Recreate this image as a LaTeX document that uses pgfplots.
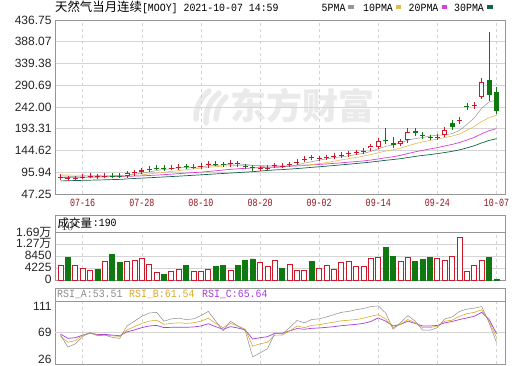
\documentclass[border=0pt]{standalone}
\usepackage{pgfplots}
\pgfplotsset{compat=1.18}
\usepackage{pgfplotstable}
\usepackage{graphicx}
\usepackage{fontspec}
\setmainfont{Liberation Sans}
\newfontfamily\cjk{Noto Sans CJK SC}
\newfontfamily\mono{Liberation Mono}
\definecolor{kred}{RGB}{204,24,40}
\definecolor{kgreen}{RGB}{16,120,16}
\definecolor{ma5}{RGB}{150,150,150}
\definecolor{ma10}{RGB}{230,186,80}
\definecolor{ma20}{RGB}{220,60,220}
\definecolor{ma30}{RGB}{20,100,70}
\definecolor{rsia}{RGB}{140,140,140}
\definecolor{rsib}{RGB}{220,170,40}
\definecolor{rsic}{RGB}{170,60,220}
\definecolor{gridc}{RGB}{212,212,212}
\definecolor{framec}{RGB}{150,150,150}
\definecolor{datec}{RGB}{150,20,30}
\definecolor{wm}{RGB}{234,234,234}
\newcommand\mtext[1]{{\mono\fontsize{11}{11}\selectfont\scalebox{0.9}[1]{#1}}}
\newcommand\dlab[1]{{\mono\fontsize{11}{11}\selectfont\scalebox{0.76}[1]{#1}}}
\pgfplotsset{
  panel/.style={scale only axis, width=450pt, xmin=-0.75, xmax=60.15,
    xtick={3,11,19,27,35,43,51,59}, major tick length=0pt,
    xmajorgrids, x grid style={dashed, gridc, line width=0.6pt},
    y grid style={gridc, line width=0.6pt},
    axis line style={framec, line width=0.7pt},
    yticklabel style={font=\fontsize{12}{12}\selectfont, text=black!85},
    anchor=south west},
  wick/.style={draw=none, mark=none, forget plot,
    error bars/.cd, y dir=minus, y explicit, error mark=none,
    error bar style={draw=#1, line width=0.8pt}},
  body/.style={draw=none, mark=none, forget plot,
    error bars/.cd, y dir=both, y explicit, error mark=-,
    error mark options={draw=#1, line width=0.8pt, mark size=2.5pt},
    error bar style={draw=#1, line width=5pt}},
  hollow/.style={draw=none, mark=none, forget plot,
    error bars/.cd, y dir=minus, y explicit, error mark=none,
    error bar style={draw=white, line width=3.4pt}},
}
% red (up) candles: low, body low (open), body high (close), high
\pgfplotstableread{
i l bl bh h
0 84.5 85 86 86.5
1 81 81.5 82 82.5
2 81.3 81.8 82.3 82.8
3 85.5 86 86.3 87
4 87.5 88 88.3 89
5 85.5 86 87 87.5
6 87.5 88 88.5 89
9 88 88.5 93.5 94
10 93 94 95.5 96
11 97 97.5 100 101
12 102.5 103 104 104.5
15 105.5 106 106.5 107
16 106.5 107 108.5 109
18 108 108.3 108.5 109
19 109 109.5 111 112
20 111.5 112 115 115.5
23 113.5 114 117 117.5
27 103.5 104 105 105.5
28 104 104.5 105.5 106
29 109.5 110 111.5 112
30 110 110.3 110.8 111.5
31 112 113 114 116
32 117 118 120 122
33 122.5 123.5 126 127.5
35 125 127 127.8 130
36 128.8 129.2 129.6 130.2
37 130.5 131.5 133 134
38 132 132.5 135.5 136
39 135.5 136.5 138 140
40 139 140 141 143
41 141.5 142.5 144 146
42 149 150 154 155
43 152 153 166 167
46 158 160 165 167
47 166 168 186 194
51 172.5 173.5 175.5 176.5
52 178.5 179.5 191 192.5
54 204 210 213.5 217
56 239 244 247.5 253
57 262 264.5 297.5 306
}\redc
% green (down) candles: low, body low (close), body high (open), high
\pgfplotstableread{
i l bl bh h
7 87.8 88.2 88.5 89
8 87.5 88.0 88.3 88.8
13 104 105.5 106 108
14 104.5 105 106 107.5
17 107.5 108 109 110.5
21 114 114.5 114.8 115.5
22 113 113.5 113.8 114.5
24 113 114 116 117
25 106 108 109 111
26 103.5 104.5 107 108
34 127 128 129.5 131
44 164 165 169 194
45 151 157 161 174
48 181 183 189 190
49 175 177 180 182
50 172.5 173.5 174.5 175
53 195.5 196.5 206 213
55 236 241 244 250
58 256 268 302 409
59 226 232 276 287
}\greenc
\pgfplotstableread{
i ma5 ma10 ma20 ma30 ra rb rc
0 88 90 84 76.5 65.0 63.2 66.3
1 87 89.8 84.3 77 48.8 55.4 60.6
2 86 89.5 84.6 77.4 53.2 57.5 61.5
3 85.5 89.2 84.9 77.8 63.2 65.0 65.0
4 84.8 89 85.2 78.2 68.5 67.6 67.6
5 85.0 88.7 85.5 78.6 64.1 65.0 65.9
6 86.3 88.4 85.8 79 65.0 65.0 65.9
7 87.9 88 86.1 79.5 61.9 64.1 65.0
8 88.7 87.6 86.4 80 60.6 63.2 64.1
9 89.7 87.3 86.8 81 77.3 72.0 69.4
10 91.4 88.2 87.3 82 83.8 76.4 72.0
11 93.7 90 87.9 82.8 90.4 80.8 75.1
12 96.6 92.3 88.7 83.6 94.8 83.8 77.3
13 99.7 94.2 89.6 84.5 95.7 85.1 78.1
14 102 95.9 90.6 85.4 83.8 79.5 75.1
15 104.2 97.8 91.7 86.3 86.9 80.8 75.5
16 105.7 99.7 92.8 87.2 87.8 81.6 75.5
17 106.5 101.6 94 88.2 86.0 80.8 75.5
18 107.1 103.4 95.1 89.2 86.9 81.6 76.0
19 108.3 105.2 96.2 90.2 91.3 83.8 77.3
20 110 107.1 97.7 91.2 97.0 87.8 80.3
21 111.2 108.5 99.2 92.2 83.8 80.8 76.4
22 112.4 109.5 100.9 93.2 70.7 75.1 72.9
23 114.1 110.6 102.4 94.2 83.8 80.8 76.4
24 114.7 111.5 103.7 95.2 77.3 77.3 74.6
25 113.3 111.7 104.7 96.2 70.7 72.9 72.0
26 111.5 111.4 105.5 97.2 35.6 50.1 59.7
27 109.7 111.1 106.3 98.6 40.9 53.2 61.5
28 107.4 110.8 107.1 100 46.6 55.4 62.8
29 106.8 110.8 108 101.1 67.6 65.0 67.6
30 107.4 110.4 108.7 101.9 66.3 65.0 67.6
31 109.3 110.4 109.4 103 75.1 70.7 70.7
32 112.3 111 110.2 104.2 84.7 77.3 73.8
33 116.2 111.8 111.2 105.5 81.6 75.1 72.9
34 119.6 113.2 112.4 106.9 86.0 78.1 74.2
35 122.9 115.2 113.4 108.2 86.9 79.0 74.6
36 126 117.7 114.5 109.6 89.5 80.8 75.5
37 128.6 120.5 115.8 111 92.6 82.5 76.4
38 130.7 123.5 117.1 112.5 95.7 84.3 77.7
39 132.7 126.2 118.5 114 97.0 85.1 78.6
40 135.4 129.2 119.8 115.5 99.2 86.0 79.5
41 138.3 132.2 121.3 117 100.9 87.8 80.8
42 142.5 135.6 123.3 118.7 103.5 90.4 83.4
43 148.6 139.7 125.7 120.7 104.4 92.6 88.2
44 154 143.4 128.3 122.7 94.8 86.9 83.8
45 157.2 146.3 130.7 124.4 72.9 75.1 77.3
46 161.4 149.9 133.8 126.3 81.6 79.5 79.5
47 167.8 155.2 137.8 128.9 91.3 86.0 83.8
48 171.2 159.9 141.7 131.4 83.8 81.6 80.8
49 173.6 163.8 145 133.6 71.6 75.1 77.3
50 176.9 167.1 148.1 135.5 71.6 75.1 77.3
51 178.9 170.2 151.2 137.6 75.1 77.3 78.1
52 179.7 173.8 154.7 140.1 86.9 83.8 81.6
53 182.5 176.9 158.3 142.8 89.5 85.1 83.4
54 189.7 181.7 162.5 146.1 97.0 90.4 86.0
55 203 190 168.1 150.5 100.0 93.9 88.2
56 217.8 198.4 174.1 155.3 101.4 95.7 90.4
57 239.2 209.5 182.3 161.7 103.5 99.2 95.7
58 253.4 218 188.9 167.1 81.6 83.8 86.0
59 257.2 223.5 193.6 171.1 55 62 67
}\tab
\begin{document}
\begin{tikzpicture}
\useasboundingbox[fill=white] (0,0) rectangle (520pt,365pt);
% watermark (logo + text)
\begin{scope}[wm, line width=5.5pt, line cap=round]
\draw (196pt,246pt) to[bend left=25] (209pt,274pt);
\draw (206pt,242pt) to[bend left=25] (219pt,272pt);
\draw (216pt,246pt) to[bend left=20] (226pt,268pt);
\end{scope}
\node[text=wm, font={\cjk\bfseries\fontsize{36}{36}\selectfont}, inner sep=0] at (302pt,259pt) {东方财富};
% title & legend
\node[anchor=west, inner sep=0] at (55pt,357.5pt) {{\cjk\fontsize{12.4}{12}\selectfont 天然气当月连续}\mtext{[MOOY] 2021-10-07 14:59}};
\node[anchor=west, inner sep=0] at (321.5pt,357.5pt) {\mtext{5PMA}};
\fill[ma5] (348pt,355.7pt) rectangle (354pt,359.5pt);
\node[anchor=west, inner sep=0] at (363pt,357.5pt) {\mtext{10PMA}};
\fill[ma10] (395.5pt,355.7pt) rectangle (401pt,359.5pt);
\node[anchor=west, inner sep=0] at (408.5pt,357.5pt) {\mtext{20PMA}};
\fill[ma20] (441.5pt,355.7pt) rectangle (447pt,359.5pt);
\node[anchor=west, inner sep=0] at (454pt,357.5pt) {\mtext{30PMA}};
\fill[ma30] (487pt,355.7pt) rectangle (493pt,359.5pt);

% ---------- main price panel ----------
\begin{axis}[panel, at={(55pt,171pt)}, height=174pt,
  ymin=47.25, ymax=436.75, ymajorgrids,
  ytick={47.25,95.9375,144.625,193.3125,242,290.6875,339.375,388.0625,436.75},
  yticklabels={47.25,95.94,144.62,193.31,242.00,290.69,339.38,388.07,436.75},
  xticklabels={\dlab{07-16},\dlab{07-28},\dlab{08-10},\dlab{08-20},\dlab{09-02},\dlab{09-14},\dlab{09-24},\dlab{10-07}},
  xticklabel style={text=datec, yshift=-2pt}]
\addplot[ma30, line width=0.7pt] table[x=i, y=ma30] {\tab};
\addplot[ma20, line width=0.7pt] table[x=i, y=ma20] {\tab};
\addplot[ma10, line width=0.6pt] table[x=i, y=ma10] {\tab};
\addplot[ma5, line width=0.5pt] table[x=i, y=ma5] {\tab};
% wicks
\addplot[wick=kred] table[x=i, y=h, y error minus expr=\thisrow{h}-\thisrow{l}] {\redc};
\addplot[wick=kgreen] table[x=i, y=h, y error minus expr=\thisrow{h}-\thisrow{l}] {\greenc};
% bodies
\addplot[body=kred] table[x=i, y=bh, y error plus expr=0, y error minus expr=\thisrow{bh}-\thisrow{bl}] {\redc};
\addplot[hollow] table[x=i, y expr=\thisrow{bh}-1.8, y error minus expr={max(\thisrow{bh}-\thisrow{bl}-3.6,0)}] {\redc};
\addplot[body=kgreen] table[x=i, y=bh, y error plus expr=0, y error minus expr=\thisrow{bh}-\thisrow{bl}] {\greenc};
\end{axis}

% ---------- volume panel ----------
\draw[framec, line width=0.7pt] (55pt,132.5pt) rectangle (505pt,150pt);
\node[anchor=west, inner sep=0, font={\cjk\fontsize{11.5}{11.5}\selectfont}] (vt) at (57.5pt,142pt) {成交量};
\node[anchor=west, inner sep=0] at ([xshift=0.3pt]vt.east) {\mtext{:190}};
\begin{axis}[panel, at={(55pt,85pt)}, height=47.5pt,
  ymin=0, ymax=16900, ymajorgrids,
  ytick={0,4225,8450,12675,16900},
  yticklabels={0,4225,8450,{1.27{\cjk 万}},{1.69{\cjk 万}}},
  yticklabel style={yshift=0.5pt},
  xticklabels={}]
\addplot[ybar, bar width=5pt, bar shift=0pt, draw=kred, fill=white, line width=0.8pt] coordinates {
(0,5070) (2,5310) (3,4230) (4,3260) (6,6510) (9,6510) (10,6880) (11,7850) (12,5680) (13,2650)
(15,2900) (16,3860) (18,2900) (19,3020) (20,3860) (23,3260) (27,6270) (28,4820) (29,6880) (31,5430)
(32,3500) (33,3500) (35,4100) (36,5070) (37,3860) (38,6270) (39,6510) (40,4700) (41,4820) (42,7720)
(43,8080) (46,6620) (47,7960) (51,7720) (52,6880) (53,8320) (54,15090) (55,2900) (56,5070) (57,6880)};
\addplot[ybar, bar width=5pt, bar shift=0pt, draw=kgreen, fill=kgreen, line width=0.8pt] coordinates {
(1,8080) (5,3860) (7,9050) (8,6150) (14,2050) (17,5070) (21,4700) (22,5310) (24,5070) (25,7120)
(26,7480) (30,4100) (34,6620) (44,11700) (45,8440) (48,6620) (49,7240) (50,8080) (58,8080) (59,190)};
\end{axis}

% ---------- RSI panel ----------
\draw[framec, line width=0.7pt] (55pt,64pt) rectangle (505pt,77pt);
\node[anchor=west, inner sep=0, text=rsia] at (57pt,70.5pt) {\mtext{RSI\_A:53.51}};
\node[anchor=west, inner sep=0, text=rsib] at (129pt,70.5pt) {\mtext{RSI\_B:61.54}};
\node[anchor=west, inner sep=0, text=rsic] at (202pt,70.5pt) {\mtext{RSI\_C:65.64}};
\begin{axis}[panel, at={(55pt,1pt)}, height=63pt,
  ymin=26, ymax=111,
  ytick={32.3,103.3}, yticklabels={26,111},
  extra y ticks={68.5}, extra y tick labels={69},
  extra y tick style={ymajorgrids=true},
  xticklabels={}]
\addplot[rsic, line width=0.7pt] table[x=i, y=rc] {\tab};
\addplot[rsib, line width=0.6pt] table[x=i, y=rb] {\tab};
\addplot[rsia, line width=0.5pt] table[x=i, y=ra] {\tab};
\end{axis}
\end{tikzpicture}
\end{document}
